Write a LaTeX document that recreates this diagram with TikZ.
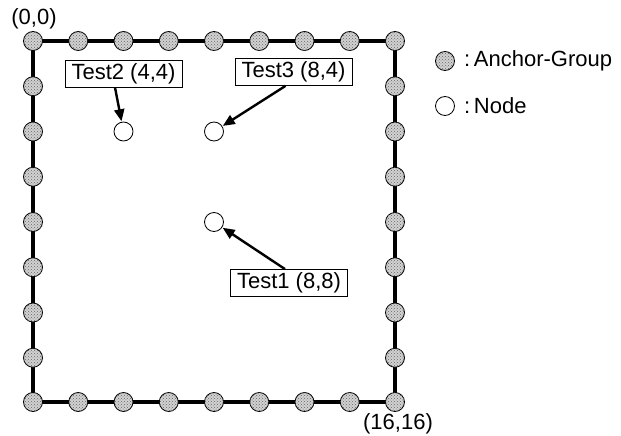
\documentclass[tikz,border=0pt]{standalone}
\usepackage{fontspec}
\setmainfont{Liberation Sans}
\usetikzlibrary{patterns,arrows.meta}
\tikzset{
  anchorgrp/.style={circle, draw, line width=0.8pt, minimum size=19pt, inner sep=0pt,
    fill=gray!35, postaction={pattern=crosshatch dots, pattern color=black!60}},
  plainnode/.style={circle, draw, line width=0.8pt, minimum size=19pt, inner sep=0pt, fill=white},
  tag/.style={draw, line width=0.8pt, inner sep=0pt, minimum width=117pt, minimum height=27pt,
    font=\fontsize{22}{24}\selectfont},
  lbl/.style={font=\fontsize{22}{24}\selectfont, inner sep=0pt},
  pointer/.style={line width=2.4pt, -{Triangle[length=12pt,width=10pt]}, shorten >=0.5pt},
  border/.style={line width=3.2pt}
}
\begin{document}
\begin{tikzpicture}[x=1pt,y=-1pt]
\useasboundingbox (0,0) rectangle (621,436);
\def\u{22.625}
% grid frame
\coordinate (c00) at (33,41);
\coordinate (c11) at (395,402);
\draw[border] (c00) rectangle (c11);
% anchor groups along the frame
\foreach \i in {0,...,8} {
  \node[anchorgrp] (t\i) at ({33+2*\i*\u},41) {};
  \node[anchorgrp] (b\i) at ({33+2*\i*\u},402) {};
}
\foreach \i in {1,...,7} {
  \node[anchorgrp] (l\i) at (33,{41+2*\i*\u}) {};
  \node[anchorgrp] (r\i) at (395,{41+2*\i*\u}) {};
}
% test nodes
\node[plainnode] (n2) at ({33+4*\u},{41+4*\u}) {};
\node[plainnode] (n3) at ({33+8*\u},{41+4*\u}) {};
\node[plainnode] (n1) at ({33+8*\u},{41+8*\u}) {};
% labels
\node[tag] (tag2) at (123.5,73.5) {Test2 (4,4)};
\node[tag] (tag3) at (293.5,72) {Test3 (8,4)};
\node[tag] (tag1) at (289,283) {Test1 (8,8)};
\draw[pointer] ([xshift=-8.5pt]tag2.south) -- (n2);
\draw[pointer] ([xshift=-8pt]tag3.south) -- (n3);
\draw[pointer] ([xshift=-4pt]tag1.north) -- (n1);
% corner coordinates
\node[lbl] (p00) at (34,19) {(0,0)};
\node[lbl] (p11) at (398,424) {(16,16)};
% legend
\node[anchorgrp] (leg1) at (445,61) {};
\node[lbl, anchor=west] (legt1) at (464,61) {:\,Anchor-Group};
\node[plainnode] (leg2) at (445,106) {};
\node[lbl, anchor=west] (legt2) at (464,106) {:\,Node};
\end{tikzpicture}
\end{document}
